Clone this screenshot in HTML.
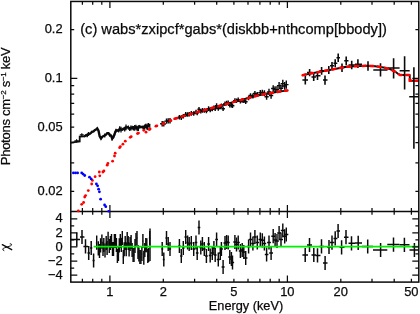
<!DOCTYPE html><html><head><meta charset="utf-8"><title>chart</title><style>html,body{margin:0;padding:0;background:#fff;width:420px;height:314px;overflow:hidden}</style></head><body><svg width="420" height="314" viewBox="0 0 420 314" style="display:block;position:absolute;left:0;top:0"><rect width="420" height="314" fill="#fff"/><defs><clipPath id="cu"><rect x="70.8" y="1.4" width="348.0" height="210.0"/></clipPath><clipPath id="cd"><rect x="70" y="1" width="350" height="211.6"/></clipPath><clipPath id="cl"><rect x="70.8" y="211.4" width="348.0" height="70.7"/></clipPath></defs><g clip-path="url(#cu)"><path d="M84.0 136.4 L84.7 136.2 L86.0 135.3 L87.2 135.3 L88.5 134.0 L89.7 133.9 L91.0 132.9 L92.2 131.7 L93.5 131.5 L94.7 130.2 L96.0 129.6 L97.2 128.4 L98.5 130.7 L99.7 136.4 L101.0 138.5 L102.2 136.8 L103.5 136.0 L104.7 135.5 L106.0 134.7 L107.2 133.2 L108.5 133.2 L109.7 135.0 L111.0 135.5 L112.2 138.6 L113.5 136.9 L114.7 133.6 L116.0 130.5 L117.2 130.3 L118.5 131.1 L119.7 128.7 L121.0 129.6 L122.2 129.7 L123.5 128.7 L124.7 129.1 L126.0 127.4 L127.2 127.3 L128.4 127.6 L129.7 129.0 L130.9 128.1 L132.2 127.6 L133.4 128.4 L134.7 127.8 L135.9 127.2 L137.2 128.6 L138.4 128.1 L139.7 126.4 L140.9 127.2 L142.2 126.8 L143.4 127.8 L144.7 127.2 L145.9 125.7 L147.2 127.8 L148.4 124.9 L149.7 125.8" fill="none" stroke="#0a0a0a" stroke-width="2.4" stroke-linejoin="miter"/><path d="M70.8 142.6L79.7 141.4V136.7L84.6 136.3" fill="none" stroke="#0a0a0a" stroke-width="1.8" stroke-linejoin="miter"/><path d="M74.4 140.8H78.8M76.6 139.2V142.4" stroke="#0a0a0a" stroke-width="1.2" fill="none"/><path d="M79.8 134.9H83.8M81.8 133.3V136.5" stroke="#0a0a0a" stroke-width="1.2" fill="none"/><path d="M87.2 133.4V137.2" stroke="#0a0a0a" stroke-width="1.3"/><path d="M88.5 132.0V136.0" stroke="#0a0a0a" stroke-width="1.3"/><path d="M104.7 133.5V137.5" stroke="#0a0a0a" stroke-width="1.3"/><path d="M109.7 133.2V136.8" stroke="#0a0a0a" stroke-width="1.3"/><path d="M112.2 136.7V140.5" stroke="#0a0a0a" stroke-width="1.3"/><path d="M113.5 135.2V138.5" stroke="#0a0a0a" stroke-width="1.3"/><path d="M114.7 131.5V135.6" stroke="#0a0a0a" stroke-width="1.3"/><path d="M116.0 128.8V132.3" stroke="#0a0a0a" stroke-width="1.3"/><path d="M119.7 126.3V131.0" stroke="#0a0a0a" stroke-width="1.3"/><path d="M121.0 126.8V132.5" stroke="#0a0a0a" stroke-width="1.3"/><path d="M124.7 126.8V131.4" stroke="#0a0a0a" stroke-width="1.3"/><path d="M126.0 124.5V130.3" stroke="#0a0a0a" stroke-width="1.3"/><path d="M128.4 125.6V129.6" stroke="#0a0a0a" stroke-width="1.3"/><path d="M129.7 126.9V131.1" stroke="#0a0a0a" stroke-width="1.3"/><path d="M130.9 125.6V130.6" stroke="#0a0a0a" stroke-width="1.3"/><path d="M132.2 125.8V129.4" stroke="#0a0a0a" stroke-width="1.3"/><path d="M133.4 126.1V130.6" stroke="#0a0a0a" stroke-width="1.3"/><path d="M134.7 124.9V130.8" stroke="#0a0a0a" stroke-width="1.3"/><path d="M135.9 124.8V129.7" stroke="#0a0a0a" stroke-width="1.3"/><path d="M137.2 126.0V131.2" stroke="#0a0a0a" stroke-width="1.3"/><path d="M138.4 125.2V130.9" stroke="#0a0a0a" stroke-width="1.3"/><path d="M143.4 125.5V130.0" stroke="#0a0a0a" stroke-width="1.3"/><path d="M144.7 124.6V129.7" stroke="#0a0a0a" stroke-width="1.3"/><path d="M145.9 123.8V127.5" stroke="#0a0a0a" stroke-width="1.3"/><path d="M147.2 125.8V129.8" stroke="#0a0a0a" stroke-width="1.3"/><path d="M148.4 123.0V126.8" stroke="#0a0a0a" stroke-width="1.3"/><path d="M149.7 123.8V127.7" stroke="#0a0a0a" stroke-width="1.3"/><path d="M160.1 123.8H164.3M162.2 121.1V126.5" stroke="#0a0a0a" stroke-width="1.45" fill="none"/><path d="M161.7 123.9H165.9M163.8 121.2V126.6" stroke="#0a0a0a" stroke-width="1.45" fill="none"/><path d="M164.4 121.1H168.6M166.5 118.4V123.8" stroke="#0a0a0a" stroke-width="1.45" fill="none"/><path d="M166.1 120.9H170.3M168.2 118.2V123.6" stroke="#0a0a0a" stroke-width="1.45" fill="none"/><path d="M167.9 120.7H172.1M170.0 118.0V123.4" stroke="#0a0a0a" stroke-width="1.45" fill="none"/><path d="M177.9 117.2H180.9M179.4 114.9V119.5" stroke="#0a0a0a" stroke-width="1.45" fill="none"/><path d="M179.8 117.6H182.8M181.3 115.3V119.9" stroke="#0a0a0a" stroke-width="1.45" fill="none"/><path d="M181.8 116.3H184.8M183.3 114.0V118.6" stroke="#0a0a0a" stroke-width="1.45" fill="none"/><path d="M184.1 114.4H187.3M185.7 112.1V116.7" stroke="#0a0a0a" stroke-width="1.45" fill="none"/><path d="M186.0 114.5H189.2M187.6 112.2V116.8" stroke="#0a0a0a" stroke-width="1.45" fill="none"/><path d="M187.6 114.2H190.8M189.2 111.9V116.5" stroke="#0a0a0a" stroke-width="1.45" fill="none"/><path d="M189.7 113.4H192.9M191.3 111.1V115.7" stroke="#0a0a0a" stroke-width="1.45" fill="none"/><path d="M192.1 113.5H195.3M193.7 111.2V115.8" stroke="#0a0a0a" stroke-width="1.45" fill="none"/><path d="M194.4 112.0H197.6M196.0 109.7V114.3" stroke="#0a0a0a" stroke-width="1.45" fill="none"/><path d="M195.6 113.0H198.8M197.2 110.7V115.3" stroke="#0a0a0a" stroke-width="1.45" fill="none"/><path d="M197.4 109.2H200.6M199.0 106.9V111.5" stroke="#0a0a0a" stroke-width="1.45" fill="none"/><path d="M199.1 111.3H202.5M200.8 109.0V113.6" stroke="#0a0a0a" stroke-width="1.45" fill="none"/><path d="M200.7 110.4H204.1M202.4 108.1V112.7" stroke="#0a0a0a" stroke-width="1.45" fill="none"/><path d="M202.6 110.5H206.0M204.3 108.2V112.8" stroke="#0a0a0a" stroke-width="1.45" fill="none"/><path d="M204.7 111.0H208.1M206.4 108.7V113.3" stroke="#0a0a0a" stroke-width="1.45" fill="none"/><path d="M206.9 108.6H210.3M208.6 106.3V110.9" stroke="#0a0a0a" stroke-width="1.45" fill="none"/><path d="M208.5 109.9H211.9M210.2 107.6V112.2" stroke="#0a0a0a" stroke-width="1.45" fill="none"/><path d="M210.6 109.0H214.0M212.3 106.7V111.3" stroke="#0a0a0a" stroke-width="1.45" fill="none"/><path d="M212.2 107.8H215.6M213.9 105.5V110.1" stroke="#0a0a0a" stroke-width="1.45" fill="none"/><path d="M213.5 108.6H216.9M215.2 106.3V110.9" stroke="#0a0a0a" stroke-width="1.45" fill="none"/><path d="M214.8 105.6H218.4M216.6 103.3V107.9" stroke="#0a0a0a" stroke-width="1.45" fill="none"/><path d="M216.5 108.5H220.1M218.3 106.2V110.8" stroke="#0a0a0a" stroke-width="1.45" fill="none"/><path d="M218.5 106.9H222.1M220.3 104.6V109.2" stroke="#0a0a0a" stroke-width="1.45" fill="none"/><path d="M219.6 105.9H223.2M221.4 103.6V108.2" stroke="#0a0a0a" stroke-width="1.45" fill="none"/><path d="M221.3 108.8H224.9M223.1 106.5V111.1" stroke="#0a0a0a" stroke-width="1.45" fill="none"/><path d="M223.2 103.7H226.8M225.0 101.4V106.0" stroke="#0a0a0a" stroke-width="1.45" fill="none"/><path d="M224.8 103.1H228.4M226.6 100.8V105.4" stroke="#0a0a0a" stroke-width="1.45" fill="none"/><path d="M226.4 102.7H230.0M228.2 100.4V105.0" stroke="#0a0a0a" stroke-width="1.45" fill="none"/><path d="M228.0 105.2H231.6M229.8 102.9V107.5" stroke="#0a0a0a" stroke-width="1.45" fill="none"/><path d="M229.6 105.3H233.2M231.4 103.0V107.6" stroke="#0a0a0a" stroke-width="1.45" fill="none"/><path d="M230.6 105.8H234.4M232.5 103.5V108.1" stroke="#0a0a0a" stroke-width="1.45" fill="none"/><path d="M233.0 100.6H236.8M234.9 98.3V102.9" stroke="#0a0a0a" stroke-width="1.45" fill="none"/><path d="M234.6 100.7H238.4M236.5 98.4V103.0" stroke="#0a0a0a" stroke-width="1.45" fill="none"/><path d="M236.3 99.8H240.1M238.2 97.5V102.1" stroke="#0a0a0a" stroke-width="1.45" fill="none"/><path d="M238.5 101.2H242.3M240.4 98.9V103.5" stroke="#0a0a0a" stroke-width="1.45" fill="none"/><path d="M240.3 100.5H244.1M242.2 98.2V102.8" stroke="#0a0a0a" stroke-width="1.45" fill="none"/><path d="M241.9 100.6H245.7M243.8 98.3V102.9" stroke="#0a0a0a" stroke-width="1.45" fill="none"/><path d="M243.8 101.8H247.6M245.7 99.5V104.1" stroke="#0a0a0a" stroke-width="1.45" fill="none"/><path d="M246.6 98.0H250.6M248.6 95.7V100.3" stroke="#0a0a0a" stroke-width="1.45" fill="none"/><path d="M248.5 95.5H252.5M250.5 93.2V97.8" stroke="#0a0a0a" stroke-width="1.45" fill="none"/><path d="M250.9 96.0H254.9M252.9 93.6V98.4" stroke="#0a0a0a" stroke-width="1.45" fill="none"/><path d="M252.9 93.4H256.9M254.9 90.9V95.9" stroke="#0a0a0a" stroke-width="1.45" fill="none"/><path d="M255.3 94.4H259.3M257.3 91.9V97.0" stroke="#0a0a0a" stroke-width="1.45" fill="none"/><path d="M258.3 92.6H262.3M260.3 89.9V95.3" stroke="#0a0a0a" stroke-width="1.45" fill="none"/><path d="M260.3 92.5H264.3M262.3 89.7V95.2" stroke="#0a0a0a" stroke-width="1.45" fill="none"/><path d="M262.3 93.1H266.5M264.4 90.3V96.0" stroke="#0a0a0a" stroke-width="1.45" fill="none"/><path d="M264.5 96.7H268.7M266.6 93.8V99.7" stroke="#0a0a0a" stroke-width="1.45" fill="none"/><path d="M266.9 91.9H271.1M269.0 88.8V94.9" stroke="#0a0a0a" stroke-width="1.45" fill="none"/><path d="M269.0 95.5H273.2M271.1 92.4V98.7" stroke="#0a0a0a" stroke-width="1.45" fill="none"/><path d="M271.1 88.5H275.3M273.2 85.2V91.7" stroke="#0a0a0a" stroke-width="1.45" fill="none"/><path d="M273.0 89.6H277.2M275.1 86.2V93.0" stroke="#0a0a0a" stroke-width="1.45" fill="none"/><path d="M274.9 89.6H279.1M277.0 86.2V93.1" stroke="#0a0a0a" stroke-width="1.45" fill="none"/><path d="M276.9 85.7H281.3M279.1 82.1V89.3" stroke="#0a0a0a" stroke-width="1.45" fill="none"/><path d="M278.8 88.2H283.2M281.0 84.5V91.9" stroke="#0a0a0a" stroke-width="1.45" fill="none"/><path d="M280.6 83.6H285.0M282.8 79.8V87.4" stroke="#0a0a0a" stroke-width="1.45" fill="none"/><path d="M282.5 85.9H286.9M284.7 82.0V89.8" stroke="#0a0a0a" stroke-width="1.45" fill="none"/><path d="M284.1 84.6H288.5M286.3 80.6V88.7" stroke="#0a0a0a" stroke-width="1.45" fill="none"/><path d="M302.4 80H308M305.3 76V84.5" stroke="#0a0a0a" stroke-width="1.6" fill="none"/><path d="M307 72.5H312M309.6 69V76.3" stroke="#0a0a0a" stroke-width="1.6" fill="none"/><path d="M311.5 77H316M313.7 73V81" stroke="#0a0a0a" stroke-width="1.6" fill="none"/><path d="M315.5 75.8H320.5M317.5 72V80" stroke="#0a0a0a" stroke-width="1.6" fill="none"/><path d="M319.5 70.8H324M321.6 67V74.7" stroke="#0a0a0a" stroke-width="1.6" fill="none"/><path d="M323 80H327.5M325 75.5V84.8" stroke="#0a0a0a" stroke-width="1.6" fill="none"/><path d="M327 70H331M328.8 66V74" stroke="#0a0a0a" stroke-width="1.6" fill="none"/><path d="M330 65.8H334M332 62V69.8" stroke="#0a0a0a" stroke-width="1.6" fill="none"/><path d="M333.5 63.3H337.3M335.2 59.3V67.3" stroke="#0a0a0a" stroke-width="1.6" fill="none"/><path d="M336.5 57.7H340M338.2 53.5V62" stroke="#0a0a0a" stroke-width="1.6" fill="none"/><path d="M339.8 67.5H344.5M342 63.5V72" stroke="#0a0a0a" stroke-width="1.6" fill="none"/><path d="M344.2 60.8H348.5M346.2 56.5V65.3" stroke="#0a0a0a" stroke-width="1.6" fill="none"/><path d="M348.5 65H355M351.7 60.8V69.2" stroke="#0a0a0a" stroke-width="1.6" fill="none"/><path d="M355 64.2H362M357.9 59.2V68" stroke="#0a0a0a" stroke-width="1.6" fill="none"/><path d="M362 65.8H373.3M368 61.3V70.8" stroke="#0a0a0a" stroke-width="1.6" fill="none"/><path d="M373.3 70H387.5M380.5 63.3V76.5" stroke="#0a0a0a" stroke-width="1.6" fill="none"/><path d="M387.5 68H399.6M393.6 58.3V78.4" stroke="#0a0a0a" stroke-width="1.6" fill="none"/><path d="M399.6 70.8H409.7M404.6 56.2V89.6" stroke="#0a0a0a" stroke-width="1.6" fill="none"/><path d="M409.2 96.8H419M413.9 67.2V148.8" stroke="#0a0a0a" stroke-width="1.6" fill="none"/><path d="M174.5 118.8 L190.0 114.2 L205.0 110.0 L220.0 105.8 L240.0 100.2 L260.0 95.0 L275.0 92.3 L287.5 90.4" fill="none" stroke="#0a0a0a" stroke-width="1.9" stroke-linejoin="round"/><path d="M174.5 118.8 L190.0 114.2 L205.0 110.0 L220.0 105.8 L240.0 100.2 L260.0 95.0 L275.0 92.3 L287.5 90.4" fill="none" stroke="#ff0000" stroke-width="2.5" stroke-dasharray="3.0 4.6" stroke-linecap="round"/><path d="M302.6 75.2 L310.0 73.6 L320.0 71.7 L330.0 69.9 L340.0 68.0 L345.0 67.0 L350.0 66.5 L358.0 66.1 L368.0 65.8 L375.0 66.2 L380.0 66.9 L385.0 67.8 L390.0 69.1 L395.0 71.6 L398.0 73.8 L400.0 75.0 L409.7 75.0 L409.8 80.8 L419.0 80.8" fill="none" stroke="#0a0a0a" stroke-width="1.9" stroke-linejoin="round"/><path d="M302.6 75.2 L310.0 73.6 L320.0 71.7 L330.0 69.9 L340.0 68.0 L345.0 67.0 L350.0 66.5 L358.0 66.1 L368.0 65.8 L375.0 66.2 L380.0 66.9 L385.0 67.8 L390.0 69.1 L395.0 71.6 L398.0 73.8 L400.0 75.0 L409.7 75.0 L409.8 80.8 L419.0 80.8" fill="none" stroke="#ff0000" stroke-width="2.5" stroke-dasharray="3.0 4.6" stroke-linecap="round"/></g><g clip-path="url(#cl)"><path d="M70.7 239.5H80M76.8 232.4V246.6" stroke="#0a0a0a" stroke-width="1.5" fill="none"/><path d="M80 237H84.4M82 229.9V244.1" stroke="#0a0a0a" stroke-width="1.5" fill="none"/><path d="M83.4 246.4H88M85.5 239.3V253.5" stroke="#0a0a0a" stroke-width="1.5" fill="none"/><path d="M87.5 253H90M88.7 245.9V260.1" stroke="#0a0a0a" stroke-width="1.5" fill="none"/><path d="M90 248H92.3M91.2 240.9V255.1" stroke="#0a0a0a" stroke-width="1.5" fill="none"/><path d="M92.5 260.5H94.7M93.6 253.4V267.6" stroke="#0a0a0a" stroke-width="1.5" fill="none"/><path d="M95.9 242.7H97.5M96.7 235.6V249.8" stroke="#0a0a0a" stroke-width="1.45" fill="none"/><path d="M97.5 248.3H99.1M98.3 241.2V255.4" stroke="#0a0a0a" stroke-width="1.45" fill="none"/><path d="M98.7 251.0H100.3M99.5 243.9V258.1" stroke="#0a0a0a" stroke-width="1.45" fill="none"/><path d="M99.8 245.4H101.4M100.6 238.3V252.5" stroke="#0a0a0a" stroke-width="1.45" fill="none"/><path d="M101.1 241.7H102.7M101.9 234.6V248.8" stroke="#0a0a0a" stroke-width="1.45" fill="none"/><path d="M102.2 249.0H103.8M103.0 241.9V256.1" stroke="#0a0a0a" stroke-width="1.45" fill="none"/><path d="M103.0 245.0H104.6M103.8 237.9V252.1" stroke="#0a0a0a" stroke-width="1.45" fill="none"/><path d="M104.2 250.5H105.8M105.0 243.4V257.6" stroke="#0a0a0a" stroke-width="1.45" fill="none"/><path d="M105.4 243.0H107.0M106.2 235.9V250.1" stroke="#0a0a0a" stroke-width="1.45" fill="none"/><path d="M106.3 248.0H107.9M107.1 240.9V255.1" stroke="#0a0a0a" stroke-width="1.45" fill="none"/><path d="M107.3 238.8H108.9M108.1 231.8V245.9" stroke="#0a0a0a" stroke-width="1.45" fill="none"/><path d="M108.5 246.0H110.1M109.3 238.9V253.1" stroke="#0a0a0a" stroke-width="1.45" fill="none"/><path d="M109.6 243.0H111.2M110.4 235.9V250.1" stroke="#0a0a0a" stroke-width="1.45" fill="none"/><path d="M110.7 241.0H112.3M111.5 233.9V248.1" stroke="#0a0a0a" stroke-width="1.45" fill="none"/><path d="M111.7 249.0H113.3M112.5 241.9V256.1" stroke="#0a0a0a" stroke-width="1.45" fill="none"/><path d="M112.7 249.0H114.3M113.5 241.9V256.1" stroke="#0a0a0a" stroke-width="1.45" fill="none"/><path d="M113.6 241.0H115.2M114.4 233.9V248.1" stroke="#0a0a0a" stroke-width="1.45" fill="none"/><path d="M114.6 241.0H116.2M115.4 233.9V248.1" stroke="#0a0a0a" stroke-width="1.45" fill="none"/><path d="M115.6 245.1H117.2M116.4 238.0V252.1" stroke="#0a0a0a" stroke-width="1.45" fill="none"/><path d="M116.6 256.0H118.2M117.4 248.9V263.1" stroke="#0a0a0a" stroke-width="1.45" fill="none"/><path d="M117.6 253.9H119.2M118.4 246.8V260.9" stroke="#0a0a0a" stroke-width="1.45" fill="none"/><path d="M118.5 245.3H120.1M119.3 238.3V252.4" stroke="#0a0a0a" stroke-width="1.45" fill="none"/><path d="M119.5 241.0H121.1M120.3 233.9V248.1" stroke="#0a0a0a" stroke-width="1.45" fill="none"/><path d="M120.5 245.0H122.1M121.3 237.9V252.1" stroke="#0a0a0a" stroke-width="1.45" fill="none"/><path d="M121.5 238.0H123.1M122.3 230.9V245.1" stroke="#0a0a0a" stroke-width="1.45" fill="none"/><path d="M122.5 257.0H124.1M123.3 249.9V264.1" stroke="#0a0a0a" stroke-width="1.45" fill="none"/><path d="M123.4 249.3H125.0M124.2 242.2V256.3" stroke="#0a0a0a" stroke-width="1.45" fill="none"/><path d="M124.4 243.0H126.0M125.2 235.9V250.1" stroke="#0a0a0a" stroke-width="1.45" fill="none"/><path d="M125.4 249.2H127.0M126.2 242.2V256.3" stroke="#0a0a0a" stroke-width="1.45" fill="none"/><path d="M126.4 239.0H128.0M127.2 231.9V246.1" stroke="#0a0a0a" stroke-width="1.45" fill="none"/><path d="M127.4 243.0H129.0M128.2 235.9V250.1" stroke="#0a0a0a" stroke-width="1.45" fill="none"/><path d="M128.3 249.5H129.9M129.1 242.5V256.6" stroke="#0a0a0a" stroke-width="1.45" fill="none"/><path d="M129.3 244.1H130.9M130.1 237.0V251.1" stroke="#0a0a0a" stroke-width="1.45" fill="none"/><path d="M130.3 242.0H131.9M131.1 234.9V249.1" stroke="#0a0a0a" stroke-width="1.45" fill="none"/><path d="M131.3 250.0H132.9M132.1 243.0V257.1" stroke="#0a0a0a" stroke-width="1.45" fill="none"/><path d="M132.3 255.0H133.9M133.1 247.9V262.1" stroke="#0a0a0a" stroke-width="1.45" fill="none"/><path d="M133.2 255.0H134.8M134.0 247.9V262.1" stroke="#0a0a0a" stroke-width="1.45" fill="none"/><path d="M134.2 246.1H135.8M135.0 239.0V253.1" stroke="#0a0a0a" stroke-width="1.45" fill="none"/><path d="M135.2 240.0H136.8M136.0 232.9V247.1" stroke="#0a0a0a" stroke-width="1.45" fill="none"/><path d="M136.2 238.0H137.8M137.0 230.9V245.1" stroke="#0a0a0a" stroke-width="1.45" fill="none"/><path d="M137.2 252.0H138.8M138.0 244.9V259.1" stroke="#0a0a0a" stroke-width="1.45" fill="none"/><path d="M138.1 254.5H139.7M138.9 247.4V261.5" stroke="#0a0a0a" stroke-width="1.45" fill="none"/><path d="M139.1 257.0H140.7M139.9 249.9V264.1" stroke="#0a0a0a" stroke-width="1.45" fill="none"/><path d="M140.1 257.0H141.7M140.9 249.9V264.1" stroke="#0a0a0a" stroke-width="1.45" fill="none"/><path d="M141.1 254.1H142.7M141.9 247.0V261.1" stroke="#0a0a0a" stroke-width="1.45" fill="none"/><path d="M142.1 241.0H143.7M142.9 233.9V248.1" stroke="#0a0a0a" stroke-width="1.45" fill="none"/><path d="M143.0 257.7H144.6M143.8 250.7V264.8" stroke="#0a0a0a" stroke-width="1.45" fill="none"/><path d="M144.0 250.0H145.6M144.8 242.9V257.1" stroke="#0a0a0a" stroke-width="1.45" fill="none"/><path d="M145.0 245.2H146.6M145.8 238.1V252.2" stroke="#0a0a0a" stroke-width="1.45" fill="none"/><path d="M146.0 245.3H147.6M146.8 238.2V252.3" stroke="#0a0a0a" stroke-width="1.45" fill="none"/><path d="M147.0 256.0H148.6M147.8 248.9V263.1" stroke="#0a0a0a" stroke-width="1.45" fill="none"/><path d="M147.9 255.0H149.5M148.7 248.0V262.1" stroke="#0a0a0a" stroke-width="1.45" fill="none"/><path d="M148.9 238.0H150.5M149.7 230.9V245.1" stroke="#0a0a0a" stroke-width="1.45" fill="none"/><path d="M150 228.4V261" stroke="#0a0a0a" stroke-width="1.45"/><path d="M161.2 249H163.2M162.2 241.9V256.1" stroke="#0a0a0a" stroke-width="1.45" fill="none"/><path d="M162.8 259.5H164.8M163.8 252.4V266.6" stroke="#0a0a0a" stroke-width="1.45" fill="none"/><path d="M165.4 238H167.6M166.5 230.9V245.1" stroke="#0a0a0a" stroke-width="1.45" fill="none"/><path d="M167.1 244H169.3M168.2 236.9V251.1" stroke="#0a0a0a" stroke-width="1.45" fill="none"/><path d="M168.9 249H171.1M170 241.9V256.1" stroke="#0a0a0a" stroke-width="1.45" fill="none"/><path d="M178.2 246H180.6M179.4 238.9V253.1" stroke="#0a0a0a" stroke-width="1.45" fill="none"/><path d="M180.1 256H182.5M181.3 248.9V263.1" stroke="#0a0a0a" stroke-width="1.45" fill="none"/><path d="M182.1 248H184.5M183.3 240.9V255.1" stroke="#0a0a0a" stroke-width="1.45" fill="none"/><path d="M184.5 237H186.9M185.7 229.9V244.1" stroke="#0a0a0a" stroke-width="1.45" fill="none"/><path d="M186.4 242.5H188.8M187.6 235.4V249.6" stroke="#0a0a0a" stroke-width="1.45" fill="none"/><path d="M188.0 244H190.4M189.2 236.9V251.1" stroke="#0a0a0a" stroke-width="1.45" fill="none"/><path d="M190.1 243H192.5M191.3 235.9V250.1" stroke="#0a0a0a" stroke-width="1.45" fill="none"/><path d="M192.4 249H195.0M193.7 241.9V256.1" stroke="#0a0a0a" stroke-width="1.45" fill="none"/><path d="M194.7 242.5H197.3M196 235.4V249.6" stroke="#0a0a0a" stroke-width="1.45" fill="none"/><path d="M195.9 253H198.5M197.2 245.9V260.1" stroke="#0a0a0a" stroke-width="1.45" fill="none"/><path d="M197.7 227.5H200.3M199 220.4V234.6" stroke="#0a0a0a" stroke-width="1.45" fill="none"/><path d="M199.5 247.5H202.1M200.8 240.4V254.6" stroke="#0a0a0a" stroke-width="1.45" fill="none"/><path d="M201.1 244H203.7M202.4 236.9V251.1" stroke="#0a0a0a" stroke-width="1.45" fill="none"/><path d="M203.0 249H205.6M204.3 241.9V256.1" stroke="#0a0a0a" stroke-width="1.45" fill="none"/><path d="M205.0 256H207.8M206.4 248.9V263.1" stroke="#0a0a0a" stroke-width="1.45" fill="none"/><path d="M207.2 244H210.0M208.6 236.9V251.1" stroke="#0a0a0a" stroke-width="1.45" fill="none"/><path d="M208.8 255.5H211.6M210.2 248.4V262.6" stroke="#0a0a0a" stroke-width="1.45" fill="none"/><path d="M210.9 253H213.7M212.3 245.9V260.1" stroke="#0a0a0a" stroke-width="1.45" fill="none"/><path d="M212.5 248H215.3M213.9 240.9V255.1" stroke="#0a0a0a" stroke-width="1.45" fill="none"/><path d="M213.8 255H216.6M215.2 247.9V262.1" stroke="#0a0a0a" stroke-width="1.45" fill="none"/><path d="M215.2 239.5H218.0M216.6 232.4V246.6" stroke="#0a0a0a" stroke-width="1.45" fill="none"/><path d="M216.8 259.5H219.8M218.3 252.4V266.6" stroke="#0a0a0a" stroke-width="1.45" fill="none"/><path d="M218.8 253H221.8M220.3 245.9V260.1" stroke="#0a0a0a" stroke-width="1.45" fill="none"/><path d="M219.9 249H222.9M221.4 241.9V256.1" stroke="#0a0a0a" stroke-width="1.45" fill="none"/><path d="M221.6 267H224.6M223.1 259.9V274.1" stroke="#0a0a0a" stroke-width="1.45" fill="none"/><path d="M223.5 243H226.5M225 235.9V250.1" stroke="#0a0a0a" stroke-width="1.45" fill="none"/><path d="M225.1 242H228.1M226.6 234.9V249.1" stroke="#0a0a0a" stroke-width="1.45" fill="none"/><path d="M226.7 242.5H229.7M228.2 235.4V249.6" stroke="#0a0a0a" stroke-width="1.45" fill="none"/><path d="M228.3 257H231.3M229.8 249.9V264.1" stroke="#0a0a0a" stroke-width="1.45" fill="none"/><path d="M229.8 259H233.0M231.4 251.9V266.1" stroke="#0a0a0a" stroke-width="1.45" fill="none"/><path d="M230.9 262.5H234.1M232.5 255.4V269.6" stroke="#0a0a0a" stroke-width="1.45" fill="none"/><path d="M233.3 242H236.5M234.9 234.9V249.1" stroke="#0a0a0a" stroke-width="1.45" fill="none"/><path d="M234.9 244.5H238.1M236.5 237.4V251.6" stroke="#0a0a0a" stroke-width="1.45" fill="none"/><path d="M236.6 242.5H239.8M238.2 235.4V249.6" stroke="#0a0a0a" stroke-width="1.45" fill="none"/><path d="M238.8 251H242.0M240.4 243.9V258.1" stroke="#0a0a0a" stroke-width="1.45" fill="none"/><path d="M240.6 250H243.8M242.2 242.9V257.1" stroke="#0a0a0a" stroke-width="1.45" fill="none"/><path d="M242.1 252H245.5M243.8 244.9V259.1" stroke="#0a0a0a" stroke-width="1.45" fill="none"/><path d="M244.0 258H247.4M245.7 250.9V265.1" stroke="#0a0a0a" stroke-width="1.45" fill="none"/><path d="M246.9 246.5H250.3M248.6 239.4V253.6" stroke="#0a0a0a" stroke-width="1.45" fill="none"/><path d="M248.8 239.5H252.2M250.5 232.4V246.6" stroke="#0a0a0a" stroke-width="1.45" fill="none"/><path d="M251.2 243.5H254.6M252.9 236.4V250.6" stroke="#0a0a0a" stroke-width="1.45" fill="none"/><path d="M253.2 237H256.6M254.9 229.9V244.1" stroke="#0a0a0a" stroke-width="1.45" fill="none"/><path d="M255.5 242.5H259.1M257.3 235.4V249.6" stroke="#0a0a0a" stroke-width="1.45" fill="none"/><path d="M258.5 239.5H262.1M260.3 232.4V246.6" stroke="#0a0a0a" stroke-width="1.45" fill="none"/><path d="M260.5 240.3H264.1M262.3 233.2V247.4" stroke="#0a0a0a" stroke-width="1.45" fill="none"/><path d="M262.6 243.5H266.2M264.4 236.4V250.6" stroke="#0a0a0a" stroke-width="1.45" fill="none"/><path d="M264.8 254.5H268.4M266.6 247.4V261.6" stroke="#0a0a0a" stroke-width="1.45" fill="none"/><path d="M267.1 242.5H270.9M269 235.4V249.6" stroke="#0a0a0a" stroke-width="1.45" fill="none"/><path d="M269.2 253H273.0M271.1 245.9V260.1" stroke="#0a0a0a" stroke-width="1.45" fill="none"/><path d="M271.3 236.2H275.1M273.2 229.1V243.2" stroke="#0a0a0a" stroke-width="1.45" fill="none"/><path d="M273.2 240H277.0M275.1 232.9V247.1" stroke="#0a0a0a" stroke-width="1.45" fill="none"/><path d="M275.1 241H278.9M277 233.9V248.1" stroke="#0a0a0a" stroke-width="1.45" fill="none"/><path d="M277.2 233H281.0M279.1 225.9V240.1" stroke="#0a0a0a" stroke-width="1.45" fill="none"/><path d="M279.0 239.5H283.0M281 232.4V246.6" stroke="#0a0a0a" stroke-width="1.45" fill="none"/><path d="M280.8 230.5H284.8M282.8 223.4V237.6" stroke="#0a0a0a" stroke-width="1.45" fill="none"/><path d="M282.7 236.3H286.7M284.7 229.2V243.4" stroke="#0a0a0a" stroke-width="1.45" fill="none"/><path d="M284.3 234.5H288.3M286.3 227.4V241.6" stroke="#0a0a0a" stroke-width="1.45" fill="none"/><path d="M302.4 255H308M305.2 247.9V262.1" stroke="#0a0a0a" stroke-width="1.5" fill="none"/><path d="M307 245H312M309.5 237.9V252.1" stroke="#0a0a0a" stroke-width="1.5" fill="none"/><path d="M311.5 255H316M313.8 247.9V262.1" stroke="#0a0a0a" stroke-width="1.5" fill="none"/><path d="M315.5 255.4H320.5M317.5 248.3V262.4" stroke="#0a0a0a" stroke-width="1.5" fill="none"/><path d="M319.5 246.4H324M321.5 239.3V253.5" stroke="#0a0a0a" stroke-width="1.5" fill="none"/><path d="M323 263H327.5M325.1 255.9V270.1" stroke="#0a0a0a" stroke-width="1.5" fill="none"/><path d="M327 247H331M329 239.9V254.1" stroke="#0a0a0a" stroke-width="1.5" fill="none"/><path d="M330 242.6H334.3M332 235.5V249.7" stroke="#0a0a0a" stroke-width="1.5" fill="none"/><path d="M333.5 238.4H337.4M335.2 231.3V245.5" stroke="#0a0a0a" stroke-width="1.5" fill="none"/><path d="M336.5 231H340M338.1 223.9V238.1" stroke="#0a0a0a" stroke-width="1.5" fill="none"/><path d="M339.6 247.3H344.5M341.6 240.2V254.4" stroke="#0a0a0a" stroke-width="1.5" fill="none"/><path d="M344 237.2H348.5M346 230.1V244.2" stroke="#0a0a0a" stroke-width="1.5" fill="none"/><path d="M348.5 243.3H355M351.5 236.2V250.4" stroke="#0a0a0a" stroke-width="1.5" fill="none"/><path d="M355 242.9H362M358.2 235.8V250.0" stroke="#0a0a0a" stroke-width="1.5" fill="none"/><path d="M362 246.5H373M367.7 239.4V253.6" stroke="#0a0a0a" stroke-width="1.5" fill="none"/><path d="M373 250H387.3M380.6 242.9V257.1" stroke="#0a0a0a" stroke-width="1.5" fill="none"/><path d="M387.3 244.6H399.5M393.5 237.5V251.7" stroke="#0a0a0a" stroke-width="1.5" fill="none"/><path d="M399.5 244.8H409.5M404.4 237.8V251.9" stroke="#0a0a0a" stroke-width="1.5" fill="none"/><path d="M409.5 250H419M414.4 242.9V257.1" stroke="#0a0a0a" stroke-width="1.5" fill="none"/><path d="M93.6 246.6H419" stroke="#00f000" stroke-width="1.7"/></g><rect x="70.8" y="1.45" width="348.0" height="280.65000000000003" fill="none" stroke="#0a0a0a" stroke-width="1.5"/><path d="M70.8 211.4H418.8" stroke="#0a0a0a" stroke-width="1.5"/><path d="M82.4 1.45v3.4M82.4 208.0v6.8M82.4 282.1v-3.4M92.7 1.45v3.4M92.7 208.0v6.8M92.7 282.1v-3.4M101.8 1.45v3.4M101.8 208.0v6.8M101.8 282.1v-3.4M109.9 1.45v6.5M109.9 204.9v13.0M109.9 282.1v-6.5M163.3 1.45v3.4M163.3 208.0v6.8M163.3 282.1v-3.4M194.6 1.45v3.4M194.6 208.0v6.8M194.6 282.1v-3.4M216.7 1.45v3.4M216.7 208.0v6.8M216.7 282.1v-3.4M233.9 1.45v3.4M233.9 208.0v6.8M233.9 282.1v-3.4M248.0 1.45v3.4M248.0 208.0v6.8M248.0 282.1v-3.4M259.9 1.45v3.4M259.9 208.0v6.8M259.9 282.1v-3.4M270.2 1.45v3.4M270.2 208.0v6.8M270.2 282.1v-3.4M279.2 1.45v3.4M279.2 208.0v6.8M279.2 282.1v-3.4M287.4 1.45v6.5M287.4 204.9v13.0M287.4 282.1v-6.5M340.8 1.45v3.4M340.8 208.0v6.8M340.8 282.1v-3.4M372.0 1.45v3.4M372.0 208.0v6.8M372.0 282.1v-3.4M394.2 1.45v3.4M394.2 208.0v6.8M394.2 282.1v-3.4M411.4 1.45v3.4M411.4 208.0v6.8M411.4 282.1v-3.4M70.8 191.4h3.4M418.8 191.4h-3.4M70.8 162.9h3.4M418.8 162.9h-3.4M70.8 142.7h3.4M418.8 142.7h-3.4M70.8 127.0h3.4M418.8 127.0h-3.4M70.8 114.2h3.4M418.8 114.2h-3.4M70.8 103.4h3.4M418.8 103.4h-3.4M70.8 94.0h3.4M418.8 94.0h-3.4M70.8 85.7h3.4M418.8 85.7h-3.4M70.8 78.3h6.5M418.8 78.3h-6.5M70.8 29.6h3.4M418.8 29.6h-3.4M70.8 275.0h6.5M418.8 275.0h-6.5M70.8 268.0h3.4M418.8 268.0h-3.4M70.8 261.0h6.5M418.8 261.0h-6.5M70.8 253.9h3.4M418.8 253.9h-3.4M70.8 246.9h6.5M418.8 246.9h-6.5M70.8 239.9h3.4M418.8 239.9h-3.4M70.8 232.8h6.5M418.8 232.8h-6.5M70.8 225.8h3.4M418.8 225.8h-3.4M70.8 218.8h6.5M418.8 218.8h-6.5" stroke="#0a0a0a" stroke-width="1.25" fill="none"/><g clip-path="url(#cd)"><circle cx="78.3" cy="211" r="1.4" fill="#ff0000"/><circle cx="81.7" cy="204.3" r="1.4" fill="#ff0000"/><circle cx="83.6" cy="202.5" r="1.4" fill="#ff0000"/><circle cx="84.7" cy="197" r="1.4" fill="#ff0000"/><circle cx="85.6" cy="195.6" r="1.4" fill="#ff0000"/><circle cx="88.3" cy="190.6" r="1.4" fill="#ff0000"/><circle cx="91.7" cy="184" r="1.4" fill="#ff0000"/><circle cx="92.4" cy="180.4" r="1.4" fill="#ff0000"/><circle cx="95.1" cy="176.7" r="1.4" fill="#ff0000"/><circle cx="99.3" cy="172" r="1.4" fill="#ff0000"/><circle cx="99.8" cy="175.8" r="1.4" fill="#ff0000"/><circle cx="102.9" cy="172" r="1.4" fill="#ff0000"/><circle cx="103.9" cy="171" r="1.4" fill="#ff0000"/><circle cx="107.2" cy="165.2" r="1.4" fill="#ff0000"/><circle cx="107.9" cy="163.4" r="1.4" fill="#ff0000"/><circle cx="112.6" cy="161.2" r="1.4" fill="#ff0000"/><circle cx="114.5" cy="156" r="1.4" fill="#ff0000"/><circle cx="115.2" cy="153.2" r="1.4" fill="#ff0000"/><circle cx="119.6" cy="147.7" r="1.4" fill="#ff0000"/><circle cx="120.4" cy="146.7" r="1.4" fill="#ff0000"/><circle cx="122.9" cy="144.2" r="1.4" fill="#ff0000"/><circle cx="125.3" cy="141.2" r="1.4" fill="#ff0000"/><circle cx="130.2" cy="137.3" r="1.4" fill="#ff0000"/><circle cx="131.2" cy="136.7" r="1.4" fill="#ff0000"/><circle cx="137.5" cy="133.6" r="1.4" fill="#ff0000"/><circle cx="138.5" cy="133.1" r="1.4" fill="#ff0000"/><circle cx="143.8" cy="130.3" r="1.4" fill="#ff0000"/><circle cx="146" cy="132.2" r="1.4" fill="#ff0000"/><circle cx="149.2" cy="129.5" r="1.4" fill="#ff0000"/><circle cx="150.1" cy="129" r="1.4" fill="#ff0000"/><circle cx="155.9" cy="126.2" r="1.4" fill="#ff0000"/><circle cx="156.9" cy="125.8" r="1.4" fill="#ff0000"/><circle cx="162.9" cy="123.9" r="1.4" fill="#ff0000"/><circle cx="163.8" cy="123.5" r="1.4" fill="#ff0000"/><circle cx="169.9" cy="120.9" r="1.4" fill="#ff0000"/><circle cx="170.8" cy="120.5" r="1.4" fill="#ff0000"/><circle cx="73.4" cy="172.9" r="1.4" fill="#0000ff"/><circle cx="75.5" cy="172.9" r="1.4" fill="#0000ff"/><circle cx="77.6" cy="172.9" r="1.4" fill="#0000ff"/><circle cx="81.7" cy="172.9" r="1.4" fill="#0000ff"/><circle cx="83.1" cy="174.1" r="1.4" fill="#0000ff"/><circle cx="84.7" cy="175.5" r="1.4" fill="#0000ff"/><circle cx="89.5" cy="177.2" r="1.4" fill="#0000ff"/><circle cx="91.2" cy="178.9" r="1.4" fill="#0000ff"/><circle cx="96.4" cy="184" r="1.4" fill="#0000ff"/><circle cx="97.6" cy="185.8" r="1.4" fill="#0000ff"/><circle cx="98.6" cy="189.2" r="1.4" fill="#0000ff"/><circle cx="99.4" cy="191.8" r="1.4" fill="#0000ff"/><circle cx="100.6" cy="199.2" r="1.4" fill="#0000ff"/><circle cx="104.6" cy="205" r="1.4" fill="#0000ff"/><circle cx="105.8" cy="206.7" r="1.4" fill="#0000ff"/><circle cx="108.7" cy="211.5" r="1.4" fill="#0000ff"/></g><g style="filter:grayscale(1)"><text x="62.6" y="33.49334670156784" font-size="12.9" text-anchor="end" font-family="Liberation Sans, sans-serif" fill="#0a0a0a" stroke="#0a0a0a" stroke-width="0.25" >0.2</text><text x="62.6" y="82.2" font-size="12.9" text-anchor="end" font-family="Liberation Sans, sans-serif" fill="#0a0a0a" stroke="#0a0a0a" stroke-width="0.25" >0.1</text><text x="62.6" y="130.90665329843216" font-size="12.9" text-anchor="end" font-family="Liberation Sans, sans-serif" fill="#0a0a0a" stroke="#0a0a0a" stroke-width="0.25" >0.05</text><text x="62.6" y="195.29334670156786" font-size="12.9" text-anchor="end" font-family="Liberation Sans, sans-serif" fill="#0a0a0a" stroke="#0a0a0a" stroke-width="0.25" >0.02</text><text x="62.6" y="222.48" font-size="12.9" text-anchor="end" font-family="Liberation Sans, sans-serif" fill="#0a0a0a" stroke="#0a0a0a" stroke-width="0.25" >4</text><text x="62.6" y="236.54" font-size="12.9" text-anchor="end" font-family="Liberation Sans, sans-serif" fill="#0a0a0a" stroke="#0a0a0a" stroke-width="0.25" >2</text><text x="62.6" y="250.6" font-size="12.9" text-anchor="end" font-family="Liberation Sans, sans-serif" fill="#0a0a0a" stroke="#0a0a0a" stroke-width="0.25" >0</text><text x="62.6" y="264.65999999999997" font-size="12.9" text-anchor="end" font-family="Liberation Sans, sans-serif" fill="#0a0a0a" stroke="#0a0a0a" stroke-width="0.25" >−2</text><text x="62.6" y="278.71999999999997" font-size="12.9" text-anchor="end" font-family="Liberation Sans, sans-serif" fill="#0a0a0a" stroke="#0a0a0a" stroke-width="0.25" >−4</text><text x="109.9" y="296.3" font-size="12.9" text-anchor="middle" font-family="Liberation Sans, sans-serif" fill="#0a0a0a" stroke="#0a0a0a" stroke-width="0.25" >1</text><text x="163.31777273057347" y="296.3" font-size="12.9" text-anchor="middle" font-family="Liberation Sans, sans-serif" fill="#0a0a0a" stroke="#0a0a0a" stroke-width="0.25" >2</text><text x="233.93222726942656" y="296.3" font-size="12.9" text-anchor="middle" font-family="Liberation Sans, sans-serif" fill="#0a0a0a" stroke="#0a0a0a" stroke-width="0.25" >5</text><text x="287.35" y="296.3" font-size="12.9" text-anchor="middle" font-family="Liberation Sans, sans-serif" fill="#0a0a0a" stroke="#0a0a0a" stroke-width="0.25" >10</text><text x="340.7677727305735" y="296.3" font-size="12.9" text-anchor="middle" font-family="Liberation Sans, sans-serif" fill="#0a0a0a" stroke="#0a0a0a" stroke-width="0.25" >20</text><text x="411.3822272694265" y="296.3" font-size="12.9" text-anchor="middle" font-family="Liberation Sans, sans-serif" fill="#0a0a0a" stroke="#0a0a0a" stroke-width="0.25" >50</text><text x="246.0" y="310.0" font-size="12.75" text-anchor="middle" font-family="Liberation Sans, sans-serif" fill="#0a0a0a" stroke="#0a0a0a" stroke-width="0.25" >Energy (keV)</text><text x="80.2" y="33.9" font-size="14.66" text-anchor="start" font-family="Liberation Sans, sans-serif" fill="#0a0a0a" stroke="#0a0a0a" stroke-width="0.25" >(c) wabs*zxipcf*gabs*(diskbb+nthcomp[bbody])</text><text transform="translate(9.7,165.2) rotate(-90)" font-size="13" letter-spacing="-0.27" font-family="Liberation Sans, sans-serif" fill="#0a0a0a" stroke="#0a0a0a" stroke-width="0.25">Photons cm<tspan font-size="8" dy="-3.9">−2</tspan><tspan dy="3.9"> s</tspan><tspan font-size="8" dy="-3.9">−1</tspan><tspan dy="3.9"> keV</tspan></text><path d="M2.3 244.7L11.7 249.7" stroke="#0a0a0a" stroke-width="1.35" stroke-linecap="round" fill="none"/><path d="M3.9 250.6Q2.3 250 2.8 248.9Q3.1 248.3 4.4 247.9L10.4 245.9Q11.9 245.3 11.6 244.4Q11.3 243.7 10.2 243.8" stroke="#0a0a0a" stroke-width="0.95" stroke-linecap="round" fill="none"/></g></svg></body></html>
